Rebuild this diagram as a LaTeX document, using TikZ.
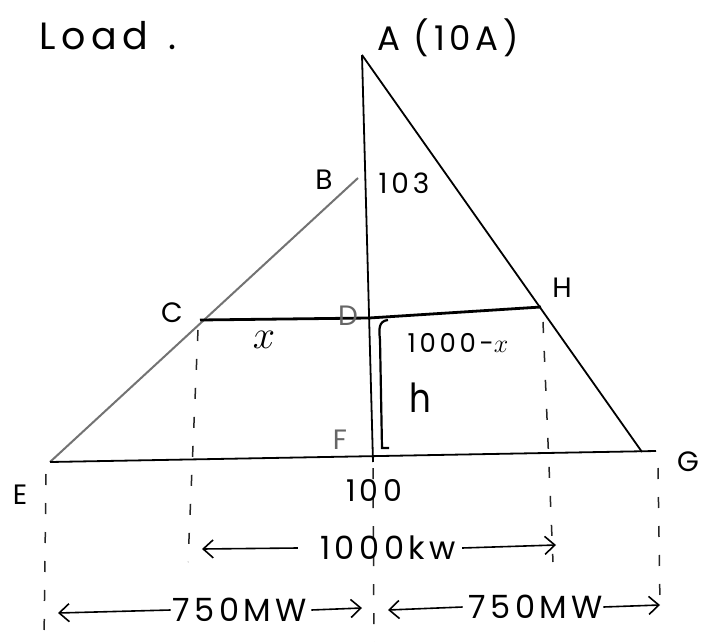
\documentclass[tikz,border=0pt]{standalone}
\usepackage{fix-cm}
\usepackage{fontspec}
\setmainfont{Poppins}
\usetikzlibrary{arrows.meta}
\begin{document}
\begin{tikzpicture}[x=1pt,y=-1pt,
  ln/.style={line width=1.8pt,black},
  gln/.style={line width=2pt,black!55},
  thk/.style={line width=2.8pt,black},
  dsh/.style={line width=1.5pt,black!85,dash pattern=on 11pt off 18pt},
  lbl/.style={font=\fontsize{28}{30}\selectfont,inner sep=0pt},
  wide/.style={font=\fontsize{#1}{#1}\selectfont\addfontfeature{LetterSpace=14}},
  arr/.style={line width=1.6pt,-{Straight Barb[length=10pt,width=18pt]}}
]
\useasboundingbox (0,0) rectangle (704,642);
\fill[white] (0,0) rectangle (704,642);
% points
\coordinate (A) at (362,55);
\coordinate (B) at (358,178);
\coordinate (C) at (200,320);
\coordinate (D) at (369,318);
\coordinate (H) at (541,307);
\coordinate (F) at (373,462);
\coordinate (E) at (50,462);
\coordinate (G) at (642,452);
\coordinate (Gx) at (656,451);
% main lines
\draw[ln] (A) -- (F);
\draw[ln] (A) -- (G);
\draw[gln] (B) -- (E);
\draw[ln] (E) -- (Gx);
\draw[thk] (C) -- (D) -- (H);
% brace
\coordinate (br1) at (388,320);
\coordinate (br2) at (382,448);
\draw[line width=2.2pt] (br1) .. controls (378,321) and (379,330) .. (380,340) -- (br2) -- ++(7,0);
% dashed verticals
\coordinate (e1) at (46,474); \coordinate (e2) at (44,642);
\coordinate (c1) at (198,330); \coordinate (c2) at (188,562);
\coordinate (m1) at (373,468); \coordinate (m2) at (374,642);
\coordinate (h1) at (543,322); \coordinate (h2) at (553,562);
\coordinate (g1) at (658,468); \coordinate (g2) at (660,606);
\draw[dsh] (e1) -- (e2);
\draw[dsh] (c1) -- (c2);
\draw[dsh] (m1) -- (m2);
\draw[dsh] (h1) -- (h2);
\draw[dsh] (g1) -- (g2);
% labels
\node[lbl,wide=38] (load) at (108,36) {Load\hspace{20pt}.};
\node[lbl,wide=34] (lA) at (448,38) {A (10A)};
\node[lbl] (lB) at (324,180) {B};
\node[lbl,wide=28] (l103) at (404,183) {103};
\node[lbl] (lC) at (172,313) {C};
\node[lbl,text=black!60] (lD) at (348,316) {D};
\node[lbl] (lH) at (562,288) {H};
\node[lbl,font=\fontsize{40}{44}\selectfont] (lx) at (264,340) {$x$};
\node[lbl,wide=26] (l1000x) at (458,343) {1000-$x$};
\node[lbl,font=\fontsize{40}{44}\selectfont\addfontfeature{FakeStretch=0.85}] (lh) at (420,398) {h};
\node[lbl,text=black!60] (lF) at (340,440) {F};
\node[lbl] (lE) at (20,495) {E};
\node[lbl] (lG) at (688,462) {G};
\node[lbl,wide=30] (l100) at (374,490) {100};
% dimension arrows
\node[lbl,wide=32] (kw) at (388,548) {1000kw};
\coordinate (kwL) at (202,549);
\coordinate (kwR) at (556,545);
\draw[arr] ([xshift=-22pt]kw.west) -- (kwL);
\draw[arr] ([xshift=6pt]kw.east) -- (kwR);
\node[lbl,wide=32] (mwL) at (240,610) {750MW};
\coordinate (mwLa) at (58,613);
\coordinate (mwLb) at (362,608);
\draw[arr] ([xshift=-2pt]mwL.west) -- (mwLa);
\draw[arr] ([xshift=4pt]mwL.east) -- (mwLb);
\node[lbl,wide=32] (mwR) at (536,607) {750MW};
\coordinate (mwRa) at (388,610);
\coordinate (mwRb) at (660,605);
\draw[arr] ([xshift=-6pt]mwR.west) -- (mwRa);
\draw[arr] ([xshift=0pt]mwR.east) -- (mwRb);
\end{tikzpicture}
\end{document}
